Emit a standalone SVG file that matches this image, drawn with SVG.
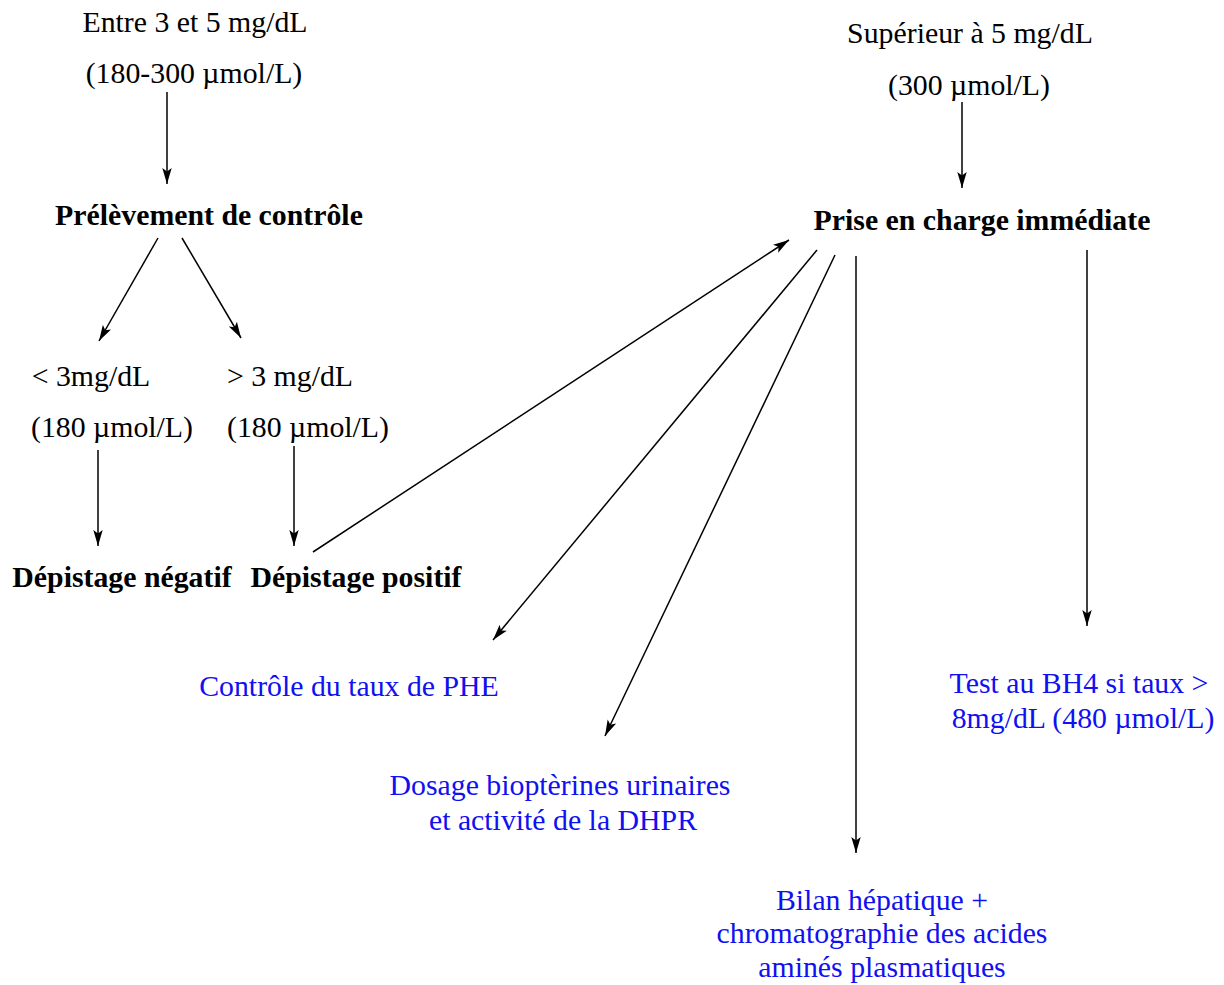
<svg xmlns="http://www.w3.org/2000/svg" width="1224" height="985" viewBox="0 0 1224 985">
<defs>
<marker id="ah" markerUnits="userSpaceOnUse" markerWidth="17" markerHeight="12" viewBox="0 0 17 12" refX="16" refY="6" orient="auto">
<path d="M0,1.3 L16,6 L0,10.7 L3.5,6 z" fill="#000"/>
</marker>
<style>
text{font-family:"Liberation Serif","Times New Roman",serif;font-size:29.8px;fill:#000;text-anchor:middle}
.b{font-weight:bold}
.blue{fill:#1010f0}
.c line{stroke:#000;stroke-width:1.5;marker-end:url(#ah)}
</style>
</defs>
<rect width="1224" height="985" fill="#fff"/>
<g id="n-entre"><text x="195" y="32">Entre 3 et 5 mg/dL</text><text x="194" y="83">(180-300 µmol/L)</text></g>
<g id="n-prelevement"><text class="b" x="209" y="225">Prélèvement de contrôle</text></g>
<g id="n-inf3"><text x="91" y="386">&lt; 3mg/dL</text><text x="112" y="437">(180 µmol/L)</text></g>
<g id="n-sup3"><text x="290" y="386">&gt; 3 mg/dL</text><text x="308" y="437">(180 µmol/L)</text></g>
<g id="n-negatif"><text class="b" x="122" y="587">Dépistage négatif</text></g>
<g id="n-positif"><text class="b" x="356" y="587">Dépistage positif</text></g>
<g id="n-sup5"><text x="970" y="43">Supérieur à 5 mg/dL</text><text x="969" y="95">(300 µmol/L)</text></g>
<g id="n-prise"><text class="b" x="982" y="230">Prise en charge immédiate</text></g>
<g id="n-phe"><text class="blue" x="349" y="696">Contrôle du taux de PHE</text></g>
<g id="n-dosage"><text class="blue" x="560" y="795">Dosage bioptèrines urinaires</text><text class="blue" x="563" y="830">et activité de la DHPR</text></g>
<g id="n-bilan"><text class="blue" x="882" y="910">Bilan hépatique +</text><text class="blue" x="882" y="943">chromatographie des acides</text><text class="blue" x="882" y="977">aminés plasmatiques</text></g>
<g id="n-bh4"><text class="blue" x="1079" y="693">Test au BH4 si taux &gt;</text><text class="blue" x="1083" y="728">8mg/dL (480 µmol/L)</text></g>
<g id="connectors" class="c">
<line x1="167" y1="92" x2="167" y2="184"/>
<line x1="158" y1="238" x2="99" y2="341"/>
<line x1="182" y1="238" x2="241" y2="338"/>
<line x1="98" y1="450" x2="98" y2="546"/>
<line x1="294" y1="446" x2="294" y2="546"/>
<line x1="313" y1="552" x2="789" y2="240"/>
<line x1="962" y1="102" x2="962" y2="188"/>
<line x1="817" y1="250" x2="493" y2="640"/>
<line x1="835" y1="255" x2="605" y2="736"/>
<line x1="856" y1="256" x2="856" y2="853"/>
<line x1="1087" y1="250" x2="1087" y2="626"/>
</g>
</svg>
